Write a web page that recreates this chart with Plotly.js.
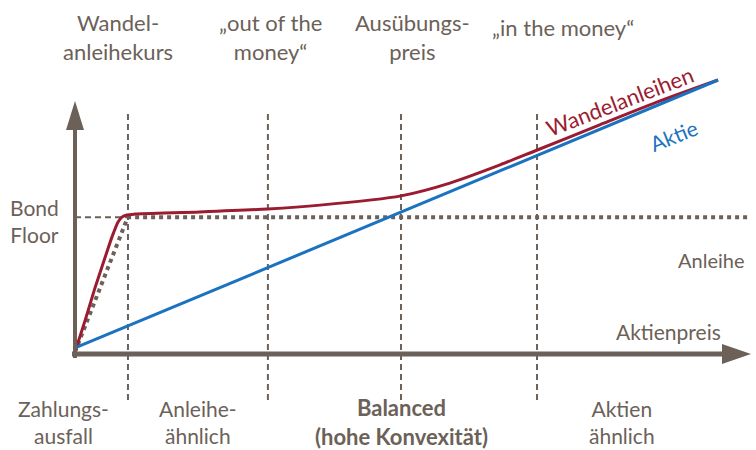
<!DOCTYPE html>
<html>
<head>
<meta charset="utf-8">
<script src="https://cdn.plot.ly/plotly-3.0.1.min.js"></script>
<style>html,body{margin:0;padding:0;background:#fff;}#chart{width:756px;height:450px;}</style>
</head>
<body>
<div id="chart"></div>
<script>
// ---- data (conceptual units: stock price 0..100, value 0..100) ----
const aktieX = [0, 100];
const aktieY = [1.5, 100];
const wandelX = [0, 1.6, 3.1, 4.7, 5.8, 6.7, 7.3, 8.1, 9.3, 19.4, 30, 38.1, 50.7, 58.3, 66.1, 71.5, 81.6, 91, 100];
const wandelY = [0, 11.8, 23.5, 34.9, 42.6, 47.8, 49.6, 50.4, 50.7, 51.5, 52.6, 54.0, 57.4, 62.1, 68.8, 73.9, 83.5, 92.3, 100];
const bondFloor = 49.5;
const anleiheX = [0, 8.2, 105];
const anleiheY = [0, bondFloor, bondFloor];
const zoneBounds = [8.24, 30.0, 50.7, 71.85];
const topLabels = ["Wandel-<br>anleihekurs", "„out of the<br>money“", "Ausübungs-<br>preis", "„in the money“"];
const bottomLabels = ["Zahlungs-<br>ausfall", "Anleihe-<br>ähnlich", "<b>Balanced<br>(hohe Konvexität)</b>", "Aktien<br>ähnlich"];

// ---- styling ----
const W = 756, H = 450;
const BROWN = "#6b6158";
const RED = "#9b1b30";
const BLUE = "#1a72c0";
const FONT = "Lato, 'Open Sans', sans-serif";
const px = x => x / W;
const py = y => 1 - y / H;

const traces = [
  {x: anleiheX, y: anleiheY, mode: "lines", line: {color: BROWN, width: 4, dash: "4px,4px"}, hoverinfo: "skip"},
  {x: wandelX, y: wandelY, mode: "lines", line: {color: RED, width: 3, shape: "spline", smoothing: 0.7}, hoverinfo: "skip"},
  {x: aktieX, y: aktieY, mode: "lines", line: {color: BLUE, width: 3}, hoverinfo: "skip"}
];

const shapes = [];
zoneBounds.forEach(b => shapes.push({type: "line", layer: "below", xref: "x", yref: "paper", x0: b, x1: b, y0: py(400), y1: py(114), line: {color: BROWN, width: 2, dash: "6px,4px"}}));
shapes.push({type: "line", layer: "below", xref: "x", yref: "y", x0: 0, x1: zoneBounds[0], y0: bondFloor, y1: bondFloor, line: {color: BROWN, width: 2, dash: "6px,4px"}});
// axes with arrowheads
shapes.push({type: "line", xref: "paper", yref: "paper", x0: px(75), x1: px(75), y0: py(358), y1: py(126), line: {color: BROWN, width: 4}});
shapes.push({type: "path", xref: "paper", yref: "paper", path: `M ${px(66)},${py(130)} L ${px(84)},${py(130)} L ${px(75)},${py(101)} Z`, fillcolor: BROWN, line: {width: 0}});
shapes.push({type: "line", xref: "paper", yref: "paper", x0: px(72), x1: px(725), y0: py(354), y1: py(354), line: {color: BROWN, width: 5}});
shapes.push({type: "path", xref: "paper", yref: "paper", path: `M ${px(722)},${py(344)} L ${px(722)},${py(364)} L ${px(751)},${py(354)} Z`, fillcolor: BROWN, line: {width: 0}});

function ann(text, x, y, size, opts) {
  return Object.assign({text: text, xref: "paper", yref: "paper", x: px(x), y: py(y), showarrow: false,
    xanchor: "center", yanchor: "middle", font: {family: FONT, size: size, color: BROWN}}, opts || {});
}
const topX = [118, 270, 412, 563], topY = [37, 37, 37, 27];
const botX = [63, 198, 401, 622], botY = [422, 422, 422, 422];
const annotations = [];
topLabels.forEach((t, i) => annotations.push(ann(t, topX[i], topY[i], 22)));
bottomLabels.forEach((t, i) => annotations.push(ann(t, botX[i], botY[i], i === 2 ? 22 : 21)));
annotations.push(ann("Bond<br>Floor", 8, 221, 21, {xanchor: "left"}));
annotations.push(ann("Anleihe", 746, 260, 20, {xanchor: "right"}));
annotations.push(ann("Aktienpreis", 723, 331, 21, {xanchor: "right"}));
annotations.push(ann("Wandelanleihen", 619, 101, 22, {textangle: -21, font: {family: FONT, size: 22, color: RED}}));
annotations.push(ann("Aktie", 673, 135, 21, {textangle: -22, font: {family: FONT, size: 21, color: BLUE}}));

const layout = {
  width: W, height: H,
  margin: {l: 0, r: 0, t: 0, b: 0},
  paper_bgcolor: "#fff", plot_bgcolor: "#fff",
  showlegend: false,
  xaxis: {range: [-11.66, 105.9], visible: false, fixedrange: true},
  yaxis: {range: [-36.03, 129.41], visible: false, fixedrange: true},
  shapes: shapes,
  annotations: annotations
};
Plotly.newPlot("chart", traces, layout, {displayModeBar: false, staticPlot: true});
</script>
</body>
</html>
